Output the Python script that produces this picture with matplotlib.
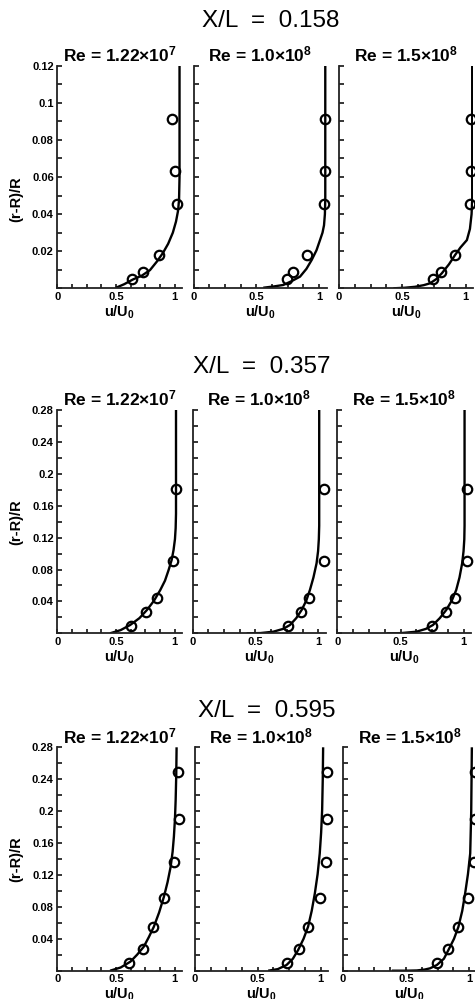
import matplotlib
matplotlib.use("Agg")
import matplotlib.pyplot as plt
from matplotlib.ticker import MultipleLocator

plt.rcParams["font.family"] = ["Liberation Sans", "DejaVu Sans"]
plt.rcParams["mathtext.fontset"] = "custom"
plt.rcParams["mathtext.rm"] = "Liberation Sans:bold"
plt.rcParams["mathtext.it"] = "Liberation Sans:bold"
plt.rcParams["mathtext.bf"] = "Liberation Sans:bold"

# station titles and Reynolds numbers
stations = ["0.158", "0.357", "0.595"]
re_labels = [r"Re = 1.22$\times$10$^{7}$", r"Re = 1.0$\times$10$^{8}$", r"Re = 1.5$\times$10$^{8}$"]
y_tops = [0.12, 0.28, 0.28]

# experiment points: heights shared in each row, u/U0 per panel
exp_y_r1 = [0.0911, 0.0634, 0.0454, 0.0180, 0.0090, 0.0048]
exp_y_r2 = [0.181, 0.0906, 0.0446, 0.0271, 0.0092]
exp_y_r3 = [0.249, 0.190, 0.136, 0.0907, 0.0544, 0.0268, 0.0093]

exp_u_r1p1 = [0.980, 1.000, 1.023, 0.867, 0.731, 0.637]
exp_u_r1p2 = [1.048, 1.048, 1.042, 0.907, 0.795, 0.742]
exp_u_r1p3 = [1.043, 1.043, 1.037, 0.918, 0.808, 0.747]
exp_u_r2p1 = [1.015, 0.986, 0.849, 0.755, 0.627]
exp_u_r2p2 = [1.048, 1.045, 0.929, 0.862, 0.756]
exp_u_r2p3 = [1.027, 1.027, 0.927, 0.856, 0.748]
exp_u_r3p1 = [1.026, 1.037, 0.994, 0.908, 0.817, 0.731, 0.608]
exp_u_r3p2 = [1.048, 1.048, 1.040, 0.994, 0.904, 0.830, 0.734]
exp_u_r3p3 = [1.042, 1.042, 1.034, 0.990, 0.915, 0.836, 0.749]

# computed profiles (u/U0, (r-R)/R)
cu_r1p1 = [0.50, 0.57, 0.646, 0.72, 0.79, 0.85, 0.90, 0.945, 0.985, 1.012, 1.030, 1.038, 1.042, 1.042]
cy_r1p1 = [0.0003, 0.0022, 0.0048, 0.0068, 0.0098, 0.0145, 0.019, 0.024, 0.030, 0.036, 0.042, 0.048, 0.060, 0.120]
cu_r1p2 = [0.556, 0.64, 0.716, 0.78, 0.849, 0.90, 0.942, 0.98, 1.008, 1.028, 1.040, 1.047, 1.05, 1.05]
cy_r1p2 = [0.0003, 0.001, 0.0018, 0.0038, 0.0063, 0.0105, 0.0153, 0.0205, 0.026, 0.030, 0.034, 0.040, 0.048, 0.120]
cu_r1p3 = [0.43, 0.52, 0.60, 0.67, 0.72, 0.77, 0.813, 0.87, 0.918, 0.96, 1.011, 1.035, 1.048, 1.053, 1.053]
cy_r1p3 = [0.0, 0.0003, 0.0008, 0.0017, 0.0027, 0.0050, 0.0081, 0.013, 0.018, 0.022, 0.026, 0.032, 0.040, 0.048, 0.120]
cu_r2p1 = [0.45, 0.54, 0.621, 0.70, 0.764, 0.825, 0.878, 0.918, 0.949, 0.975, 0.991, 1.003, 1.009, 1.012, 1.012]
cy_r2p1 = [0.0, 0.004, 0.0104, 0.019, 0.0292, 0.041, 0.0543, 0.066, 0.0794, 0.092, 0.1044, 0.118, 0.132, 0.150, 0.280]
cu_r2p2 = [0.43, 0.54, 0.642, 0.72, 0.775, 0.825, 0.868, 0.905, 0.934, 0.962, 0.987, 0.999, 1.005, 1.008, 1.008]
cy_r2p2 = [0.0, 0.0003, 0.002, 0.0055, 0.0104, 0.019, 0.0292, 0.041, 0.0543, 0.070, 0.0878, 0.103, 0.118, 0.135, 0.280]
cu_r2p3 = [0.39, 0.50, 0.625, 0.70, 0.756, 0.81, 0.861, 0.905, 0.940, 0.966, 0.987, 0.998, 1.004, 1.006, 1.006]
cy_r2p3 = [0.0, 0.0002, 0.002, 0.0055, 0.0104, 0.019, 0.0292, 0.041, 0.0543, 0.070, 0.0878, 0.103, 0.118, 0.135, 0.280]
cu_r3p1 = [0.45, 0.54, 0.623, 0.68, 0.737, 0.78, 0.823, 0.868, 0.909, 0.94, 0.966, 0.983, 0.994, 1.003, 1.009, 1.014, 1.017]
cy_r3p1 = [0.0, 0.004, 0.0113, 0.020, 0.030, 0.042, 0.0551, 0.073, 0.0927, 0.111, 0.130, 0.149, 0.168, 0.190, 0.214, 0.245, 0.280]
cu_r3p2 = [0.583, 0.66, 0.729, 0.78, 0.822, 0.865, 0.901, 0.93, 0.955, 0.977, 0.994, 1.005, 1.013, 1.018, 1.021]
cy_r3p2 = [0.0, 0.002, 0.0071, 0.015, 0.026, 0.040, 0.0551, 0.075, 0.097, 0.121, 0.147, 0.173, 0.201, 0.240, 0.280]
cu_r3p3 = [0.388, 0.50, 0.586, 0.65, 0.691, 0.744, 0.80, 0.836, 0.88, 0.915, 0.945, 0.968, 0.99, 1.008, 1.016, 1.021]
cy_r3p3 = [0.0, 0.0, 0.0003, 0.0015, 0.003, 0.0071, 0.015, 0.026, 0.040, 0.0551, 0.075, 0.097, 0.121, 0.147, 0.200, 0.280]

exp_y = [exp_y_r1, exp_y_r2, exp_y_r3]
exp_u = [[exp_u_r1p1, exp_u_r1p2, exp_u_r1p3],
         [exp_u_r2p1, exp_u_r2p2, exp_u_r2p3],
         [exp_u_r3p1, exp_u_r3p2, exp_u_r3p3]]
curves = [[(cu_r1p1, cy_r1p1), (cu_r1p2, cy_r1p2), (cu_r1p3, cy_r1p3)],
          [(cu_r2p1, cy_r2p1), (cu_r2p2, cy_r2p2), (cu_r2p3, cy_r2p3)],
          [(cu_r3p1, cy_r3p1), (cu_r3p2, cy_r3p2), (cu_r3p3, cy_r3p3)]]

W, H = 475, 999
fig = plt.figure(figsize=(W / 100, H / 100), dpi=100)

# layout in pixels (top-left origin)
row_top = [65.7, 410.0, 747.3]
row_bot = [288.3, 633.3, 970.7]
col_left = [[57.3, 193.5, 339.0], [57.3, 192.7, 337.3], [57.3, 195.0, 342.7]]
col_unit = [117.3, 125.5, 126.5]
xmax = 1.06
title_x = [270.8, 261.7, 267.2]
title_base = [26.7, 372.7, 716.7]
ylab_y = [199.0, 522.0, 859.0]


def px_axes(left, top, width, height):
    return fig.add_axes([left / W, 1 - (top + height) / H, width / W, height / H])


for r in range(3):
    fig.text(title_x[r] / W, 1 - title_base[r] / H, "X/L  =  " + stations[r],
             fontsize=17.5, ha="center", va="baseline")
    fig.text(16.7 / W, 1 - ylab_y[r] / H, "(r-R)/R", rotation=90, fontsize=10.5,
             fontweight="bold", ha="center", va="center")
    top = y_tops[r]
    for c in range(3):
        left = col_left[r][c]
        ax = px_axes(left, row_top[r], col_unit[c] * xmax, row_bot[r] - row_top[r])
        cu, cy = curves[r][c]
        ax.plot(cu, cy, color="black", lw=1.7, solid_capstyle="butt")
        ax.plot(exp_u[r][c], exp_y[r], "o", ms=6.8, mfc="none", mec="black",
                mew=1.6, clip_on=False)
        ax.set_xlim(0, xmax)
        ax.set_ylim(0, top)
        for s in ["top", "right"]:
            ax.spines[s].set_visible(False)
        for s in ["left", "bottom"]:
            ax.spines[s].set_linewidth(1.3)
            ax.spines[s].set_color("#222222")
        ax.set_xticks([0, 0.5, 1])
        ax.set_xticklabels(["0", "0.5", "1"])
        ax.xaxis.set_minor_locator(MultipleLocator(0.125))
        if r == 0:
            yt = [0.02, 0.04, 0.06, 0.08, 0.1, 0.12]
            ylabs = ["0.02", "0.04", "0.06", "0.08", "0.1", "0.12"]
            ax.yaxis.set_minor_locator(MultipleLocator(0.01))
        else:
            yt = [0.04, 0.08, 0.12, 0.16, 0.2, 0.24, 0.28]
            ylabs = ["0.04", "0.08", "0.12", "0.16", "0.2", "0.24", "0.28"]
            ax.yaxis.set_minor_locator(MultipleLocator(0.02))
        ax.set_yticks(yt)
        if c == 0:
            ax.set_yticklabels(ylabs)
        else:
            ax.set_yticklabels([])
        ax.tick_params(axis="both", which="both", direction="in", width=1.1,
                       labelsize=8, pad=2.5)
        ax.tick_params(axis="y", which="both", length=3.8)
        ax.tick_params(axis="x", which="both", length=3.2)
        for lab in ax.get_xticklabels() + ax.get_yticklabels():
            lab.set_fontweight("bold")
        ax.set_xlabel(r"u/U$_{0}$", fontsize=10.5, fontweight="bold", labelpad=1)
        ax.set_title(re_labels[c], fontsize=12.5, fontweight="bold", pad=3)

fig.savefig("out.png", dpi=100)
